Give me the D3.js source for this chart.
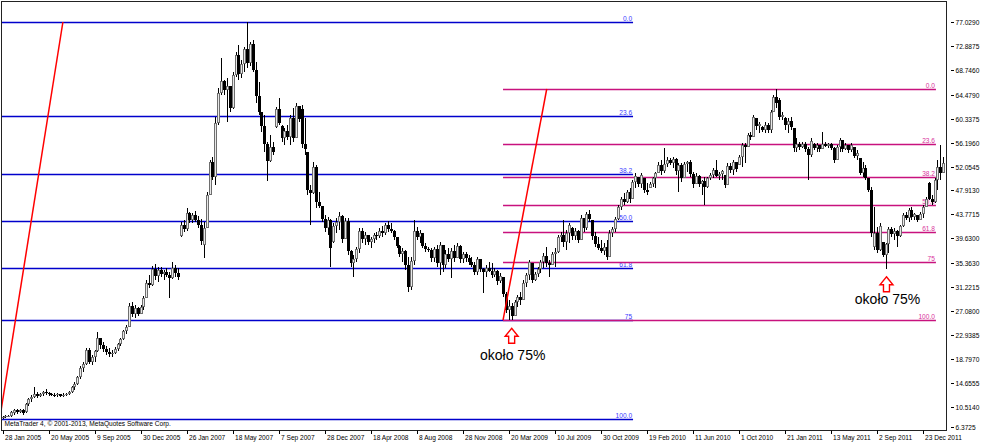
<!DOCTYPE html>
<html><head><meta charset="utf-8">
<script src="https://cdn.jsdelivr.net/npm/d3@7"></script>
<style>html,body{margin:0;padding:0;background:#fff;}svg{display:block;}</style>
</head><body>
<script>
// ---- data (weekly bars, prices) ----
const openP = [8.6,8.8,8.9,9.0,9.5,10.0,9.6,9.9,9.6,11.0,11.8,12.3,12.8,12.4,12.7,13.1,12.9,12.8,12.6,12.5,12.7,12.4,12.6,12.7,13.1,13.9,14.5,15.6,17.2,18.0,20.3,18.3,19.2,20.1,22.4,21.3,20.5,20.0,19.6,19.9,20.6,21.4,22.2,23.6,24.3,28.0,26.5,27.6,26.6,27.8,29.4,32.0,31.6,34.3,33.2,34.2,33.4,33.8,33.3,32.8,34.6,33.6,
40.0,42.0,41.2,44.0,42.8,43.6,42.9,42.0,38.5,41.5,47.2,52.8,50.2,59.6,64.8,66.8,65.3,66.0,62.2,67.8,71.3,68.0,69.8,72.3,70.0,73.3,68.8,64.2,61.5,59.0,56.0,53.0,55.5,58.8,62.0,59.0,57.0,58.2,57.1,60.5,57.0,62.5,62.0,56.0,54.5,48.0,47.5,52.0,46.0,45.2,43.0,41.5,42.8,39.0,41.8,42.5,
43.5,39.5,42.6,37.5,35.3,36.0,37.8,41.0,39.5,40.2,39.0,39.5,40.3,40.0,41.0,40.5,42.0,41.3,41.0,39.8,38.3,36.9,37.5,35.0,31.2,35.8,41.0,39.9,40.5,38.4,37.8,37.6,36.2,37.8,35.4,38.5,35.0,37.0,36.0,37.5,36.3,38.4,36.0,37.0,36.2,35.6,35.0,33.8,36.0,34.3,33.8,34.5,34.0,33.3,34.0,
32.2,33.0,30.0,27.2,28.0,26.3,28.6,29.5,29.0,32.0,33.3,35.3,32.5,33.5,34.3,35.5,36.6,35.3,35.0,37.0,37.2,39.8,40.3,39.0,40.6,41.5,40.0,41.0,39.3,43.2,41.5,43.8,42.8,40.0,38.6,38.0,37.5,38.2,36.5,40.6,41.2,43.0,45.0,46.4,46.0,47.6,46.5,49.3,50.2,49.0,50.0,48.0,48.4,49.1,50.0,51.0,52.4,51.2,52.5,53.2,52.7,53.4,51.2,52.3,50.0,52.5,52.9,50.8,49.0,50.5,
49.0,49.5,48.5,50.0,50.6,51.5,50.5,50.8,50.6,48.8,52.2,51.5,52.8,52.4,53.7,55.7,55.5,57.5,57.2,60.4,59.0,58.9,58.4,59.3,58.3,61.4,64.0,63.5,60.6,60.5,59.2,60.0,58.7,55.2,56.0,55.4,55.9,55.0,54.0,56.0,55.3,55.8,55.0,55.9,55.6,55.9,55.2,53.2,55.4,56.6,55.0,55.8,54.9,55.4,53.8,53.5,
51.0,51.8,50.0,48.0,38.2,40.6,37.6,39.0,36.8,38.6,41.2,40.4,41.0,40.0,41.7,43.6,43.2,44.5,43.3,43.6,42.9,43.9,45.0,49.2,46.5,45.9,49.8,52.0,51.0];
const highP = [8.9,9.1,9.2,9.8,10.2,10.2,10.1,10.1,11.2,12.0,12.6,13.9,13.1,12.9,13.3,13.6,13.1,12.9,12.9,12.9,12.8,12.9,12.9,13.3,14.1,14.8,15.9,17.6,18.3,20.7,20.7,19.5,20.4,23.4,22.4,21.8,21.0,20.7,20.3,20.9,21.6,22.4,23.8,24.7,28.5,28.7,28.1,27.8,28.1,29.7,32.4,33.3,34.8,35.2,34.7,34.7,34.2,34.5,33.8,35.6,35.0,34.5,
42.5,42.8,44.9,44.2,44.0,44.4,43.5,43.0,42.4,47.6,53.2,53.7,60.6,65.6,70.8,67.0,67.3,66.0,68.4,71.8,73.0,70.5,72.7,77.03,73.5,74.0,70.1,66.7,61.5,61.0,56.3,57.5,56.3,62.3,63.9,59.2,58.7,59.2,61.0,62.2,63.0,62.6,62.7,60.4,54.6,48.9,52.8,52.3,47.6,45.3,43.7,43.3,43.0,42.3,43.2,44.2,
43.6,43.2,43.2,37.6,36.8,38.2,41.4,41.4,40.7,40.2,39.9,40.6,40.7,41.4,41.8,42.3,42.6,42.3,41.1,39.9,38.5,38.0,37.6,36.4,36.4,42.8,41.6,41.1,40.6,38.8,38.2,38.0,38.2,38.5,39.0,38.5,37.6,38.0,38.0,38.5,38.8,38.5,37.3,37.3,36.8,36.4,35.6,36.4,36.0,34.5,35.0,35.6,35.4,34.5,34.2,
33.7,33.0,30.4,29.0,28.5,29.0,29.9,30.4,32.4,33.7,35.9,35.4,33.8,34.7,35.9,37.1,38.2,35.9,37.3,38.0,40.2,40.7,42.8,41.1,42.3,41.6,41.4,41.1,43.7,43.2,44.2,44.5,42.8,40.7,39.9,39.4,38.8,39.4,41.1,41.6,43.3,45.4,46.8,47.5,48.0,48.3,49.7,50.9,50.3,50.9,50.1,49.2,49.4,50.2,51.1,52.8,53.2,55.3,53.7,53.5,53.7,53.5,52.7,52.7,52.8,53.0,53.2,51.1,50.9,50.6,
49.7,50.2,50.3,50.9,51.8,53.2,51.1,51.5,50.6,52.7,52.7,53.2,52.8,54.0,56.1,56.1,57.8,58.0,61.0,60.5,59.7,59.0,59.7,59.6,61.8,64.4,65.45,63.9,61.5,60.6,60.4,60.6,58.7,57.0,56.3,56.3,56.3,55.4,57.0,56.1,56.1,55.8,58.0,56.3,56.1,56.1,55.4,55.8,57.0,56.6,56.1,55.8,56.1,55.4,54.9,53.5,
52.8,52.3,50.1,48.5,45.0,41.6,42.3,39.0,38.9,41.6,41.6,41.4,41.1,42.0,44.0,44.2,44.9,45.1,44.0,43.7,44.2,45.4,46.8,49.4,47.1,50.1,53.2,55.8,53.7];
const lowP = [8.35,8.6,8.7,8.8,9.1,9.3,9.4,9.2,9.5,10.7,11.3,12.1,12.0,12.2,12.4,12.6,12.4,12.4,12.2,12.3,12.2,12.2,12.4,12.5,13.0,13.4,14.3,15.3,16.6,17.8,17.9,17.8,18.3,20.0,20.5,20.0,19.5,19.2,19.2,19.7,20.2,21.1,22.0,23.2,24.3,26.0,25.9,26.2,26.5,27.3,29.3,31.0,31.4,32.4,32.1,33.0,32.4,33.0,29.3,32.6,33.0,32.4,
39.9,40.7,41.0,42.3,42.3,42.5,41.4,38.5,36.3,41.4,47.1,49.7,48.9,59.3,64.5,64.4,59.8,61.5,62.0,67.5,67.0,67.3,68.4,69.1,69.5,68.4,63.0,61.0,58.0,54.6,49.6,52.8,54.0,58.7,59.2,56.3,55.8,56.6,55.8,56.3,57.0,59.7,55.3,54.0,47.1,41.9,47.3,44.9,44.9,42.5,40.7,40.2,34.7,38.8,40.6,41.1,
38.8,39.5,36.8,34.7,33.0,35.6,37.1,38.8,38.5,38.5,38.0,38.8,39.4,39.7,39.9,40.2,40.7,40.6,39.4,38.0,36.4,35.6,34.2,30.4,30.7,35.0,39.4,38.8,38.0,37.3,37.3,35.6,35.6,34.7,33.3,33.8,34.5,35.6,32.8,35.6,36.2,35.4,35.4,35.6,35.0,34.7,33.3,33.3,33.8,30.2,33.0,33.8,32.8,33.0,31.6,
31.9,29.5,26.7,25.6,25.52,26.3,27.8,28.1,29.0,31.2,32.4,31.9,32.3,33.0,33.7,34.5,34.7,33.0,35.0,34.7,37.1,39.0,38.2,37.6,38.8,39.4,39.4,38.8,39.3,40.7,41.1,42.5,39.4,38.2,37.6,37.1,36.8,35.9,36.5,39.9,40.7,42.8,44.5,45.4,45.8,45.8,46.5,48.3,48.5,48.3,47.5,47.1,48.3,48.5,48.3,50.9,50.6,50.9,52.0,52.3,51.8,50.6,47.7,49.4,50.0,51.1,50.2,48.3,49.0,48.5,
47.2,45.4,48.4,49.7,50.0,50.2,49.7,49.7,48.3,48.8,50.9,50.6,51.1,52.3,52.0,52.7,55.5,56.6,57.2,58.4,57.8,58.0,57.8,57.8,57.8,61.4,62.2,60.1,60.1,58.4,57.8,58.4,54.6,54.6,54.9,55.3,54.6,49.7,53.7,54.9,54.6,54.6,55.0,55.4,55.2,54.9,52.7,53.2,54.6,54.6,54.9,54.4,54.6,53.5,53.2,50.6,
50.2,49.7,47.7,39.9,37.6,37.1,37.5,36.4,34.3,37.1,39.9,39.4,38.2,39.9,41.6,42.8,42.5,42.8,42.8,42.5,42.9,43.2,45.0,46.3,45.4,45.8,48.0,49.7,51.0];
const closeP = [8.8,8.9,9.0,9.6,10.0,9.6,9.9,9.5,11.0,11.8,12.3,12.8,12.4,12.7,13.1,12.9,12.8,12.6,12.5,12.7,12.4,12.6,12.7,13.1,13.9,14.5,15.6,17.2,17.9,20.3,18.3,19.2,20.1,22.4,21.3,20.5,20.0,19.6,19.9,20.6,21.4,22.2,23.6,24.4,28.0,26.5,27.6,26.6,27.8,29.4,32.0,31.6,34.3,33.2,34.2,33.4,33.8,33.3,32.8,34.6,33.6,32.9,
42.0,41.2,44.0,42.8,43.6,42.9,42.0,39.2,41.5,47.2,52.8,50.2,59.6,64.8,66.8,65.3,66.0,62.2,67.8,71.3,68.0,69.8,72.3,70.0,73.3,68.8,64.2,61.5,59.0,56.0,53.0,55.5,54.6,62.0,59.6,57.0,58.2,57.1,60.5,57.0,62.5,60.2,56.0,55.0,48.0,47.5,52.0,46.0,45.2,43.0,41.5,42.8,38.0,41.8,42.5,43.5,
39.5,42.6,37.5,35.3,36.0,37.8,41.0,39.5,40.2,39.0,39.5,40.3,40.0,41.0,40.5,42.0,41.3,41.0,39.8,38.3,36.9,37.5,35.0,31.2,35.8,41.0,39.9,40.5,38.4,37.8,37.6,36.2,37.8,35.4,38.5,35.0,37.0,36.0,37.5,36.3,38.4,36.0,37.0,36.2,35.6,35.0,33.8,36.0,34.3,33.8,34.5,34.0,33.3,34.0,32.2,
33.2,30.0,27.2,28.0,26.3,28.6,29.5,29.0,32.0,33.3,35.5,32.5,33.5,34.3,35.5,36.6,35.3,35.0,37.0,37.2,39.8,40.3,39.0,40.6,42.0,40.0,41.0,39.3,43.2,41.5,43.8,43.0,40.0,38.6,38.0,37.5,38.2,36.5,40.6,41.2,43.0,45.0,46.4,46.0,47.6,46.5,49.3,50.5,49.0,50.6,48.0,47.6,49.1,50.0,51.0,52.4,51.2,52.5,53.2,52.7,53.4,51.2,52.3,50.0,52.5,52.9,50.8,49.0,50.5,49.0,
49.5,48.5,50.0,50.6,51.5,50.5,50.8,51.2,48.8,52.2,51.5,52.8,51.6,53.7,55.7,55.5,57.5,57.2,60.6,59.0,59.4,58.4,59.3,58.3,61.4,64.0,63.0,60.6,61.0,59.2,60.0,58.8,55.2,56.0,55.4,55.9,55.0,54.0,56.5,55.3,55.8,55.0,55.9,55.6,55.9,55.2,53.2,55.4,56.6,55.0,55.8,54.9,55.7,53.8,54.4,51.0,
51.8,50.0,48.0,40.5,40.6,37.6,41.8,36.8,38.6,41.2,40.4,41.0,40.0,41.7,43.6,43.2,44.5,43.3,43.8,42.9,43.9,45.0,46.5,46.5,45.9,49.8,52.0,51.0,52.6];

const dateLabels = ["28 Jan 2005","20 May 2005","9 Sep 2005","30 Dec 2005","26 Jan 2007","18 May 2007","7 Sep 2007","28 Dec 2007","18 Apr 2008","8 Aug 2008","28 Nov 2008","20 Mar 2009","10 Jul 2009","30 Oct 2009","19 Feb 2010","11 Jun 2010","1 Oct 2010","21 Jan 2011","13 May 2011","2 Sep 2011","23 Dec 2011"];
const dateLabelBars = [0,16,32,48,64,80,96,112,128,144,160,176,192,208,224,240,256,272,288,304,320];
const priceTicks = ["77.0290","72.8875","68.7460","64.4790","60.3375","56.1960","52.0545","47.9130","43.7715","39.6300","35.3630","31.2215","27.0800","22.9385","18.7970","14.6555","10.5140","6.3725"];

const fibLevels = [0, 23.6, 38.2, 50, 61.8, 75, 100];
const fibLevelLabels = ["0.0","23.6","38.2","50.0","61.8","75","100.0"];
// Fibonacci 1 (blue): anchors (bar, price)
const fib1High = 77.03, fib1Low = 8.35;
const fib1Trend = [[-1, 8.35], [21, 77.03]];
const fib1Span = [-1, 219.2];
// Fibonacci 2 (magenta)
const fib2High = 65.45, fib2Low = 25.52;
const fib2Trend = [[174, 25.52], [189.2, 65.45]];
const fib2Span = [174, 324.5];

const noteText = "około 75%";
const arrowBars = [177, 307.3];
const arrowPrices = [24.1, 33.0];
const noteBars = [166, 296.3];
const notePrices = [18.6, 28.3];

const copyright = "MetaTrader 4, © 2001-2013, MetaQuotes Software Corp.";

// ---- drawing ----
const W = 981, H = 443;
const plot = {left: 1.5, top: 1.5, right: 946.5, bottom: 430.5};
const x = d3.scaleLinear().domain([0, 320]).range([2.5, 923]);
const y = d3.scaleLinear().domain([6.3725, 77.029]).range([430.9, 22]);

const svg = d3.select("body").append("svg").attr("width", W).attr("height", H);
const font = "'Liberation Sans', Arial, sans-serif";
const smallSize = 7.5, sx = 0.88;

svg.append("defs").append("clipPath").attr("id", "clip")
  .append("rect").attr("x", 2).attr("y", 2).attr("width", 944).attr("height", 428);

const g = svg.append("g").attr("clip-path", "url(#clip)");

function smallText(sel, tx, ty, txt, fill, anchor) {
  return sel.append("text")
    .attr("transform", `translate(${tx},${ty}) scale(${sx},1)`)
    .attr("font-family", font).attr("font-size", smallSize)
    .attr("fill", fill).attr("text-anchor", anchor || "start")
    .text(txt);
}

// Fibonacci levels
function drawFib(high, low, span, lineColor, textColor) {
  const x1 = x(span[0]), x2 = x(span[1]);
  fibLevels.forEach((lv, k) => {
    const p = high - (high - low) * lv / 100;
    const yy = Math.round(y(p)) + 0.5;
    g.append("line").attr("x1", x1).attr("x2", x2).attr("y1", yy).attr("y2", yy)
      .attr("stroke", lineColor).attr("stroke-width", 1.6);
    smallText(g, x2 - 1, yy - 2, fibLevelLabels[k], textColor, "end");
  });
}
drawFib(fib1High, fib1Low, fib1Span, "#0000cc", "#3a3aff");
drawFib(fib2High, fib2Low, fib2Span, "#c8127e", "#d8319a");

// candles
const n = closeP.length;
const candles = g.append("g").attr("shape-rendering", "crispEdges");
for (let i = 0; i < n; i++) {
  const cx = Math.round(x(i));
  const up = closeP[i] >= openP[i];
  candles.append("rect").attr("x", cx).attr("width", 1)
    .attr("y", y(highP[i])).attr("height", Math.max(1, y(lowP[i]) - y(highP[i])))
    .attr("fill", "#000");
  const top = y(Math.max(openP[i], closeP[i])), bot = y(Math.min(openP[i], closeP[i]));
  const hgt = Math.max(1, bot - top);
  if (up) {
    candles.append("rect").attr("x", cx - 1).attr("width", 3)
      .attr("y", top).attr("height", hgt).attr("fill", "#6e6e6e");
    if (hgt > 2) candles.append("rect").attr("x", cx).attr("width", 1)
      .attr("y", top + 1).attr("height", hgt - 2).attr("fill", "#e8e8e8");
  } else {
    candles.append("rect").attr("x", cx - 1).attr("width", 3)
      .attr("y", top).attr("height", hgt).attr("fill", "#000");
  }
}

// trend lines of the Fibonacci tools
[fib1Trend, fib2Trend].forEach(t => {
  g.append("line")
    .attr("x1", x(t[0][0])).attr("y1", y(t[0][1]))
    .attr("x2", x(t[1][0])).attr("y2", y(t[1][1]))
    .attr("stroke", "#ff0000").attr("stroke-width", 1.5);
});

// annotations: arrows + text
arrowBars.forEach((b, k) => {
  const tx = x(b), ty = y(arrowPrices[k]);
  const path = `M${tx},${ty} L${tx + 6.5},${ty + 8} L${tx + 3},${ty + 8} L${tx + 3},${ty + 15} L${tx - 3},${ty + 15} L${tx - 3},${ty + 8} L${tx - 6.5},${ty + 8} Z`;
  svg.append("path").attr("d", path).attr("fill", "#fff").attr("stroke", "#ff0000").attr("stroke-width", 1.4);
  svg.append("text").attr("x", x(noteBars[k])).attr("y", y(notePrices[k]))
    .attr("font-family", font).attr("font-size", 14).attr("fill", "#000").text(noteText);
});

// copyright
smallText(svg, 4.5, 426, copyright, "#000");

// frame
svg.append("rect").attr("x", plot.left).attr("y", plot.top)
  .attr("width", plot.right - plot.left).attr("height", plot.bottom - plot.top)
  .attr("fill", "none").attr("stroke", "#222").attr("stroke-width", 1);

// price axis
priceTicks.forEach(t => {
  const yy = Math.round(y(+t)) + 0.5;
  const ty = Math.min(yy, 427.5);
  svg.append("line").attr("x1", 951).attr("x2", 954).attr("y1", ty).attr("y2", ty)
    .attr("stroke", "#000").attr("stroke-width", 1);
  smallText(svg, 955.5, ty + 2.7, t, "#000");
});

// time axis
dateLabelBars.forEach((b, k) => {
  const xx = Math.round(x(b)) + 0.5;
  svg.append("line").attr("x1", xx).attr("x2", xx).attr("y1", 430.5).attr("y2", 434)
    .attr("stroke", "#000").attr("stroke-width", 1);
  smallText(svg, xx + 1.5, 440, dateLabels[k], "#000");
});
</script>
</body></html>
